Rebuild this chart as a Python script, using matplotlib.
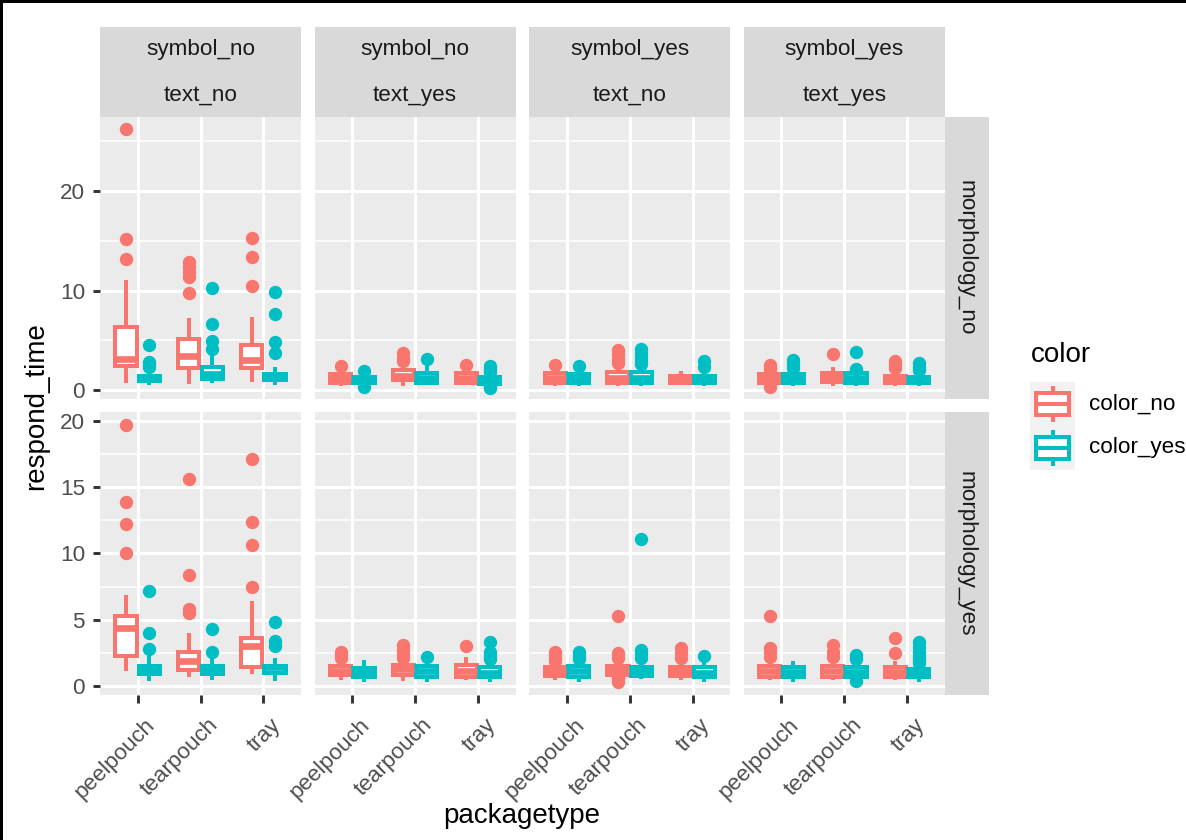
import matplotlib
matplotlib.use("Agg")
import matplotlib.pyplot as plt
import matplotlib.transforms as mtransforms
from matplotlib.patches import Rectangle
from matplotlib.lines import Line2D

plt.rcParams['font.family'] = ['Liberation Sans', 'DejaVu Sans']

# ---------------------------------------------------------------- data
packagetypes = ["peelpouch", "tearpouch", "tray"]
color_levels = ["color_no", "color_yes"]
col_facets = [("symbol_no", "text_no"), ("symbol_no", "text_yes"),
              ("symbol_yes", "text_no"), ("symbol_yes", "text_yes")]
row_facets = ["morphology_no", "morphology_yes"]

# Box summaries (lower whisker, Q1, median, Q3, upper whisker), ordered
# peelpouch/color_no, peelpouch/color_yes, tearpouch/color_no,
# tearpouch/color_yes, tray/color_no, tray/color_yes
mno_sno_tno_box = [(0.67, 2.38, 3.1, 6.3, 11.05), (0.55, 0.95, 1.2, 1.45, 2.0),
                   (0.57, 2.2, 3.4, 5.1, 7.2), (0.73, 1.1, 1.6, 2.3, 3.8),
                   (0.83, 2.2, 3.0, 4.5, 7.3), (0.5, 1.0, 1.3, 1.65, 2.35)]
mno_sno_tno_out = [[26.2, 15.2, 13.2], [4.5, 2.85, 2.5, 2.3],
                   [12.9, 12.4, 11.9, 11.4, 9.8], [10.3, 6.6, 4.95, 4.15],
                   [15.3, 13.4, 10.5], [9.9, 7.6, 4.85, 3.7]]

mno_sno_tyes_box = [(0.4, 0.75, 1.2, 1.6, 1.95), (0.5, 0.68, 1.0, 1.33, 1.6),
                    (0.4, 1.0, 1.45, 2.05, 2.5), (0.48, 0.75, 1.2, 1.67, 2.55),
                    (0.48, 0.75, 1.2, 1.67, 2.1), (0.5, 0.65, 1.0, 1.33, 1.6)]
mno_sno_tyes_out = [[2.4], [1.95, 0.3], [3.7, 3.25, 2.9], [3.15], [2.5],
                    [2.4, 2.1, 1.85, 0.3, 0.2]]

mno_syes_tno_box = [(0.4, 0.75, 1.2, 1.67, 2.1), (0.4, 0.75, 1.2, 1.6, 2.05),
                    (0.4, 0.75, 1.2, 1.77, 2.4), (0.4, 0.75, 1.2, 1.77, 2.4),
                    (0.48, 0.68, 1.05, 1.43, 1.95), (0.4, 0.68, 1.05, 1.43, 1.95)]
mno_syes_tno_out = [[2.5], [2.45], [4.0, 3.6, 3.1, 2.7], [4.1, 3.7, 3.3, 2.9, 2.6],
                    [], [2.95, 2.3]]

mno_syes_tyes_box = [(0.45, 0.75, 1.2, 1.6, 1.9), (0.4, 0.75, 1.2, 1.6, 1.95),
                     (0.4, 0.82, 1.3, 1.67, 2.3), (0.4, 0.75, 1.2, 1.67, 1.9),
                     (0.4, 0.68, 1.05, 1.43, 1.9), (0.4, 0.68, 1.0, 1.33, 1.8)]
mno_syes_tyes_out = [[2.5, 2.1, 0.3], [3.0, 2.6, 2.2], [3.65], [3.8, 2.1],
                     [2.95, 2.6, 2.2], [2.7, 2.3, 2.0]]

myes_sno_tno_box = [(1.15, 2.3, 4.4, 5.3, 6.9), (0.4, 0.9, 1.2, 1.53, 2.3),
                    (0.65, 1.2, 1.86, 2.53, 4.0), (0.45, 0.9, 1.2, 1.53, 2.1),
                    (0.9, 1.45, 3.0, 3.6, 6.4), (0.4, 0.98, 1.4, 1.53, 2.15)]
myes_sno_tno_out = [[19.7, 13.9, 12.2, 10.0], [7.15, 4.0, 2.8],
                    [15.6, 8.4, 5.8, 5.5], [4.3, 2.6],
                    [17.1, 12.35, 10.65, 7.5], [4.85, 3.4, 3.0]]

myes_sno_tyes_box = [(0.45, 0.83, 1.15, 1.5, 1.9), (0.33, 0.66, 1.05, 1.39, 1.98),
                     (0.4, 0.83, 1.25, 1.6, 1.9), (0.33, 0.7, 1.1, 1.5, 1.8),
                     (0.45, 0.66, 1.15, 1.6, 2.17), (0.33, 0.66, 1.0, 1.41, 1.8)]
myes_sno_tyes_out = [[2.55, 2.35, 2.15], [], [3.1, 2.75, 2.45, 2.1], [2.17],
                     [3.03], [3.35, 2.6, 2.3, 2.05]]

myes_syes_tno_box = [(0.45, 0.76, 1.1, 1.46, 1.7), (0.33, 0.7, 1.1, 1.5, 1.85),
                     (0.7, 0.83, 1.2, 1.5, 1.9), (0.5, 0.76, 1.1, 1.46, 1.9),
                     (0.45, 0.76, 1.1, 1.46, 1.9), (0.33, 0.66, 1.0, 1.41, 1.95)]
myes_syes_tno_out = [[2.6, 2.35, 2.1, 1.85], [2.6, 2.3, 2.05],
                     [5.25, 2.5, 2.15, 0.6, 0.3], [11.1, 2.7, 2.4, 2.1],
                     [2.85, 2.5, 2.15], [2.3]]

myes_syes_tyes_box = [(0.45, 0.7, 1.1, 1.5, 1.9), (0.33, 0.7, 1.05, 1.41, 1.85),
                      (0.45, 0.7, 1.1, 1.5, 1.9), (0.5, 0.7, 1.05, 1.41, 1.75),
                      (0.45, 0.7, 1.05, 1.41, 1.85), (0.33, 0.66, 0.95, 1.26, 1.5)]
myes_syes_tyes_out = [[5.3, 2.9, 2.55, 2.2], [], [3.1, 2.6, 2.2], [2.35, 2.0, 0.35],
                      [3.6, 2.5], [3.3, 2.95, 2.6, 2.3, 2.0, 1.75]]

y_major = [[0, 10, 20], [0, 5, 10, 15, 20]]
y_minor = [[5, 15, 25], [2.5, 7.5, 12.5, 17.5]]

panel_boxes = [[mno_sno_tno_box, mno_sno_tyes_box, mno_syes_tno_box, mno_syes_tyes_box],
               [myes_sno_tno_box, myes_sno_tyes_box, myes_syes_tno_box, myes_syes_tyes_box]]
panel_out = [[mno_sno_tno_out, mno_sno_tyes_out, mno_syes_tno_out, mno_syes_tyes_out],
             [myes_sno_tno_out, myes_sno_tyes_out, myes_syes_tno_out, myes_syes_tyes_out]]

# ---------------------------------------------------------------- style
W, H = 1186, 840
fig = plt.figure(figsize=(W / 100, H / 100), dpi=100)
fig.patch.set_facecolor("white")

PANEL_BG = "#EBEBEB"
STRIP_BG = "#D9D9D9"
HUES = ["#F8766D", "#00BFC4"]
TICK_TXT = "#4D4D4D"
STRIP_TXT = "#1A1A1A"
SMALL = 16.2
LARGE = 20
LW = 2.9
MED_LW = 4.8

px_x0 = [100, 314.6, 529.2, 743.8]
px_w = 201
px_rows = [(117, 399), (411.7, 695)]
ylims = [(-0.9, 27.44), (-0.68, 20.7)]
box_w = 0.3375
dodge = 0.1875


def fig_rect(x0, y0, x1, y1):
    return [x0 / W, 1 - y1 / H, (x1 - x0) / W, (y1 - y0) / H]


def add_rect(x0, y0, x1, y1, color):
    fig.add_artist(Rectangle((x0 / W, 1 - y1 / H), (x1 - x0) / W, (y1 - y0) / H,
                             transform=fig.transFigure, facecolor=color,
                             edgecolor="none", zorder=0))


xpos = list(range(1, len(packagetypes) + 1))

for r in range(2):
    top, bot = px_rows[r]
    for c in range(4):
        ax = fig.add_axes(fig_rect(px_x0[c], top, px_x0[c] + px_w, bot))
        ax.set_facecolor(PANEL_BG)
        for s in ax.spines.values():
            s.set_visible(False)
        ax.set_xlim(0.4, len(packagetypes) + 0.6)
        ax.set_ylim(*ylims[r])
        ax.set_xticks(xpos)
        ax.set_yticks(y_major[r])
        ax.set_yticks(y_minor[r], minor=True)
        ax.set_axisbelow(True)
        ax.grid(which="major", color="white", linewidth=2.2)
        ax.grid(which="minor", axis="y", color="white", linewidth=1.1)

        boxes = panel_boxes[r][c]
        outs = panel_out[r][c]
        for k, hue in enumerate(HUES):
            stats = []
            for p in range(len(packagetypes)):
                lo, q1, med, q3, hi = boxes[2 * p + k]
                stats.append(dict(whislo=lo, q1=q1, med=med, q3=q3, whishi=hi,
                                  fliers=outs[2 * p + k]))
            pos = [x + (2 * k - 1) * dodge for x in xpos]
            ax.bxp(stats, positions=pos, widths=box_w, patch_artist=True,
                   showcaps=False, manage_ticks=False,
                   boxprops=dict(facecolor="white", edgecolor=hue, linewidth=LW),
                   whiskerprops=dict(color=hue, linewidth=LW, solid_capstyle="butt"),
                   medianprops=dict(color=hue, linewidth=MED_LW, solid_capstyle="butt"),
                   flierprops=dict(marker="o", markerfacecolor=hue, markeredgecolor=hue,
                                   markersize=8.6, linestyle="none"))

        ax.tick_params(axis="both", which="minor", length=0)
        if c == 0:
            ax.set_yticklabels([f"{v:g}" for v in y_major[r]])
            ax.tick_params(axis="y", which="major", length=5.2, width=2.1,
                           color="#333333", labelsize=SMALL, labelcolor=TICK_TXT, pad=5.5)
        else:
            ax.tick_params(axis="y", which="major", length=0, labelleft=False)
        if r == 1:
            ax.set_xticklabels(packagetypes)
            ax.tick_params(axis="x", which="major", length=5.4, width=2.1,
                           color="#333333", labelsize=SMALL, labelcolor=TICK_TXT, pad=8.5)
            shift = mtransforms.ScaledTranslation(7 / 100, 0, fig.dpi_scale_trans)
            for lab in ax.get_xticklabels():
                lab.set_rotation(45)
                lab.set_ha("right")
                lab.set_va("top")
                lab.set_rotation_mode("anchor")
                lab.set_transform(lab.get_transform() + shift)
        else:
            ax.tick_params(axis="x", which="major", length=0, labelbottom=False)

# column strips (two facet variables stacked)
for c, (sym, txt) in enumerate(col_facets):
    x0 = px_x0[c]
    add_rect(x0, 27, x0 + px_w, 117, STRIP_BG)
    xc = (x0 + px_w / 2) / W
    fig.text(xc, 1 - 50 / H, sym, ha="center", va="center", fontsize=SMALL, color=STRIP_TXT)
    fig.text(xc, 1 - 95 / H, txt, ha="center", va="center", fontsize=SMALL, color=STRIP_TXT)

# row strips
for r, lab in enumerate(row_facets):
    top, bot = px_rows[r]
    add_rect(945, top, 989, bot, STRIP_BG)
    fig.text(966 / W, 1 - (top + bot) / 2 / H, lab, rotation=270, ha="center",
             va="center", fontsize=SMALL, color=STRIP_TXT)

# axis titles
fig.text(36 / W, 1 - 406 / H, "respond_time", rotation=90, ha="center", va="center",
         fontsize=LARGE, color="black")
fig.text(522 / W, 1 - 816 / H, "packagetype", ha="center", va="center",
         fontsize=LARGE, color="black")

# legend
fig.text(1031 / W, 1 - 355 / H, "color", ha="left", va="center", fontsize=LARGE,
         color="black")
lax = fig.add_axes(fig_rect(1030, 382, 1075, 470))
lax.set_xlim(0, 1)
lax.set_ylim(0, len(color_levels))
lax.set_axis_off()
lax.add_patch(Rectangle((0, 0), 1, len(color_levels), facecolor="#F2F2F2",
                        edgecolor="none"))
for k, (hue, name) in enumerate(zip(HUES, color_levels)):
    base = len(color_levels) - 1 - k
    lax.add_patch(Rectangle((0.125, base + 0.25), 0.75, 0.5, facecolor="white",
                            edgecolor=hue, linewidth=LW))
    lax.add_line(Line2D([0.125, 0.875], [base + 0.5] * 2, color=hue, linewidth=LW))
    lax.add_line(Line2D([0.5, 0.5], [base + 0.1, base + 0.25], color=hue, linewidth=LW,
                        solid_capstyle="butt"))
    lax.add_line(Line2D([0.5, 0.5], [base + 0.75, base + 0.9], color=hue, linewidth=LW,
                        solid_capstyle="butt"))
    fig.text(1089 / W, 1 - (404 + 44 * k) / H, name, ha="left", va="center",
             fontsize=SMALL, color="black")

# frame edges
add_rect(0, 0, 3, H, "black")
add_rect(0, 0, W, 3, "black")

fig.savefig("out.png", dpi=100, facecolor="white")
